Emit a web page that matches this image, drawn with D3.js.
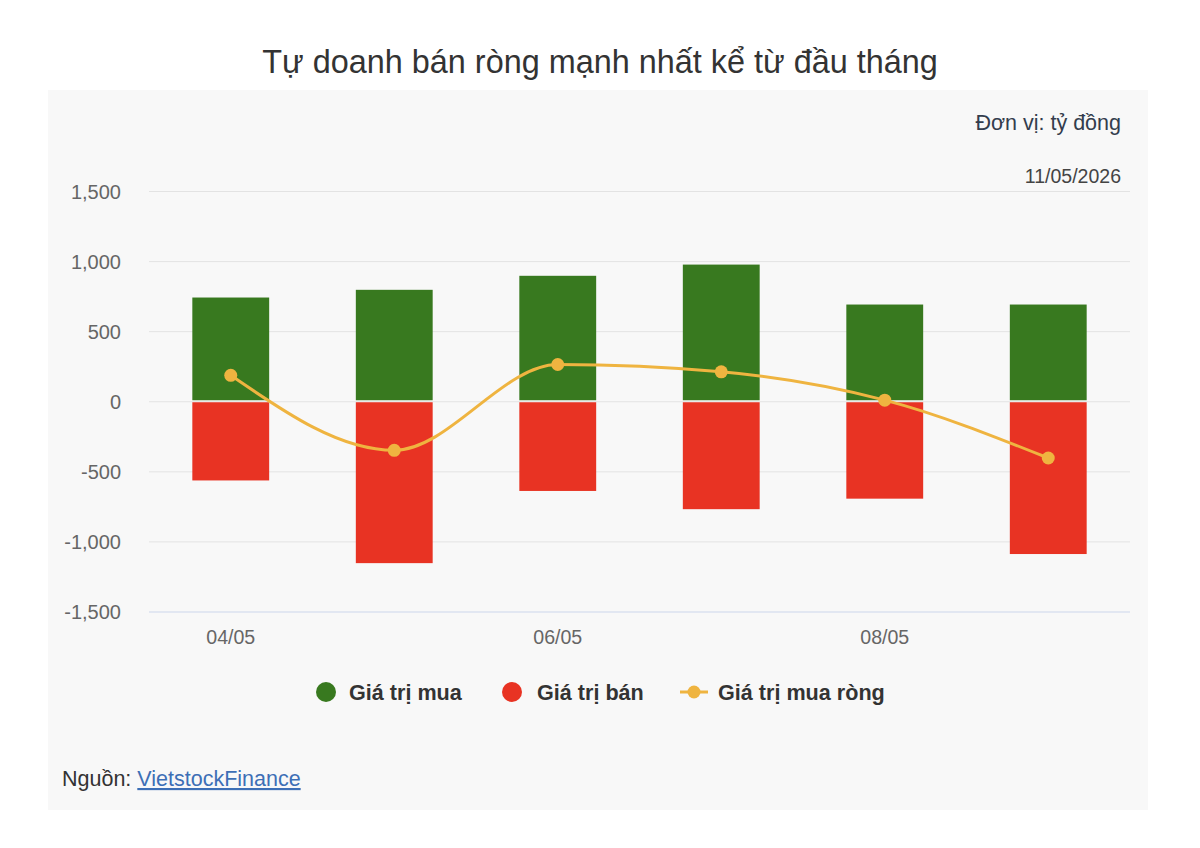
<!DOCTYPE html>
<html><head><meta charset="utf-8">
<script src="https://cdn.jsdelivr.net/npm/d3@7/dist/d3.min.js"></script>
<style>body{margin:0;background:#fff;} text{font-family:"Liberation Sans",Arial,Helvetica,sans-serif;}</style>
</head><body><svg id="c" width="1200" height="848"></svg>
<script>
const categories = ["04/05","05/05","06/05","07/05","08/05","11/05"];
const buyValues = [740, 795, 895, 975, 690, 690];
const sellValues = [-565, -1155, -640, -770, -695, -1090];
const netValues = [185, -350, 262, 210, 8, -405];
const yTicks = [-1500,-1000,-500,0,500,1000,1500];
const shownXLabels = ["04/05","06/05","08/05"];
const seriesNames = ["Giá trị mua","Giá trị bán","Giá trị mua ròng"];
const colors = {buy:"#38791f", sell:"#e83323", net:"#efb440"};

const svg = d3.select("#c");
svg.append("rect").attr("x",48).attr("y",90).attr("width",1100).attr("height",720).attr("fill","#f8f8f8");
svg.append("text").attr("x",600).attr("y",73).attr("text-anchor","middle").attr("font-size",32.4).attr("fill","#333").text("Tự doanh bán ròng mạnh nhất kể từ đầu tháng");
svg.append("text").attr("x",1121).attr("y",130).attr("text-anchor","end").attr("font-size",21.5).attr("fill","#333d4d").text("Đơn vị: tỷ đồng");
svg.append("text").attr("x",1121).attr("y",183).attr("text-anchor","end").attr("font-size",19.5).attr("fill","#444").text("11/05/2026");

const left=149, right=1130;
const x = d3.scaleBand().domain(categories).range([left,right]).paddingInner(0.53).paddingOuter(0.265);
const y = d3.scaleLinear().domain([-1500,1500]).range([611.5,191]);

const fmt = d => d3.format(",")(d).replace("−","-");
const g = svg.append("g");
const yAxis = d3.axisLeft(y).tickValues(yTicks).tickSize(-(right-left)).tickFormat(fmt);
const ya = g.append("g").attr("transform",`translate(${left},0)`).call(yAxis);
ya.select(".domain").remove();
ya.selectAll(".tick line").attr("stroke","#e3e3e3").attr("stroke-width",1);
ya.selectAll(".tick text").attr("x",-28).attr("font-size",20).attr("fill","#666").attr("dy","0.35em");
ya.selectAll(".tick").filter(d=>d===-1500).select("line").attr("stroke","#ccd6eb");

const xAxis = d3.axisBottom(x).tickSize(0).tickFormat(d=>shownXLabels.includes(d)?d:"");
const xa = g.append("g").attr("transform",`translate(0,${y(-1500)})`).call(xAxis);
xa.select(".domain").remove();
xa.selectAll(".tick text").attr("y",19).attr("font-size",19.6).attr("fill","#666").attr("dy","0.71em");

g.selectAll(".buy").data(categories).join("rect").attr("class","buy")
  .attr("x",d=>x(d)).attr("width",x.bandwidth())
  .attr("y",(d,i)=>y(buyValues[i])).attr("height",(d,i)=>y(0)-y(buyValues[i])-1)
  .attr("fill",colors.buy);
g.selectAll(".sell").data(categories).join("rect").attr("class","sell")
  .attr("x",d=>x(d)).attr("width",x.bandwidth())
  .attr("y",y(0)+1).attr("height",(d,i)=>y(sellValues[i])-y(0)-1)
  .attr("fill",colors.sell);

const line = d3.line().x((d,i)=>x(categories[i])+x.bandwidth()/2).y(d=>y(d)).curve(d3.curveMonotoneX);
g.append("path").attr("d",line(netValues)).attr("fill","none").attr("stroke",colors.net).attr("stroke-width",3);
g.selectAll(".dot").data(netValues).join("circle").attr("class","dot")
  .attr("cx",(d,i)=>x(categories[i])+x.bandwidth()/2).attr("cy",d=>y(d)).attr("r",6.5).attr("fill",colors.net);

// legend
const lg = svg.append("g");
const ly = 692;
const lfs = 21.6;
lg.append("circle").attr("cx",326).attr("cy",ly).attr("r",10).attr("fill",colors.buy);
lg.append("text").attr("x",349).attr("y",ly+7.5).attr("font-size",lfs).attr("font-weight","bold").attr("fill","#333").text(seriesNames[0]);
lg.append("circle").attr("cx",512).attr("cy",ly).attr("r",10).attr("fill",colors.sell);
lg.append("text").attr("x",537).attr("y",ly+7.5).attr("font-size",lfs).attr("font-weight","bold").attr("fill","#333").text(seriesNames[1]);
lg.append("line").attr("x1",680).attr("x2",708).attr("y1",ly).attr("y2",ly).attr("stroke",colors.net).attr("stroke-width",3);
lg.append("circle").attr("cx",694).attr("cy",ly).attr("r",6.5).attr("fill",colors.net);
lg.append("text").attr("x",718).attr("y",ly+7.5).attr("font-size",lfs).attr("font-weight","bold").attr("fill","#333").text(seriesNames[2]);

// source
const src = svg.append("text").attr("x",62).attr("y",786).attr("font-size",21.5).attr("fill","#333");
src.append("tspan").text("Nguồn: ");
src.append("tspan").attr("fill","#3d6fb6").attr("text-decoration","underline").text("VietstockFinance");
</script></body></html>
